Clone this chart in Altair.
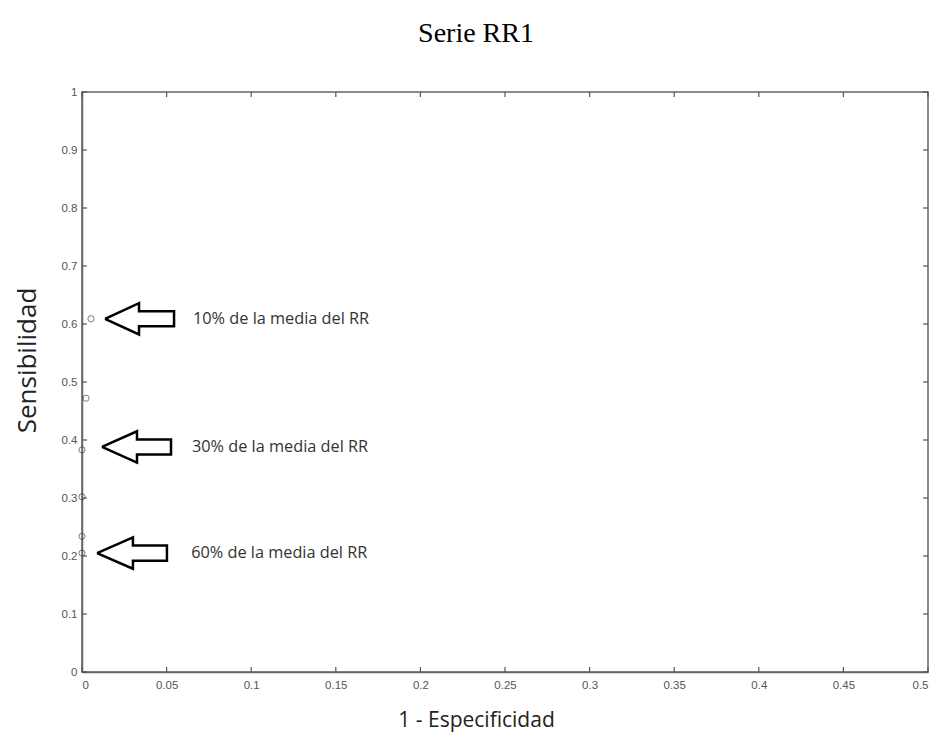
import altair as alt
import pandas as pd

# ---- data ----
pt_x = [0.0053, 0.0024, 0.0, 0.0, 0.0, 0.0]
pt_y = [0.609, 0.472, 0.383, 0.302, 0.234, 0.205]

x_ticks = [0, 0.05, 0.1, 0.15, 0.2, 0.25, 0.3, 0.35, 0.4, 0.45, 0.5]
y_ticks = [0, 0.1, 0.2, 0.3, 0.4, 0.5, 0.6, 0.7, 0.8, 0.9, 1.0]

ann_text = ["10% de la media del RR", "30% de la media del RR", "60% de la media del RR"]
ann_x = [0.0656, 0.0650, 0.0645]
ann_y = [0.609, 0.388, 0.205]

arrow_tip_x = [0.0136, 0.0118, 0.0089]
arrow_neck_x = [0.0337, 0.0325, 0.0301]
arrow_tail_x = [0.0544, 0.0526, 0.0502]
arrow_y = [0.609, 0.388, 0.205]
head_half = 0.027
shaft_half = 0.013

W, H = 846, 580

pts = pd.DataFrame({"x": pt_x, "y": pt_y})
xt = pd.DataFrame({"v": x_ticks})
yt = pd.DataFrame({"v": y_ticks})
ann = pd.DataFrame({"x": ann_x, "y": ann_y, "t": ann_text})

rows = []
for i, (tx, nx, ex, cy) in enumerate(zip(arrow_tip_x, arrow_neck_x, arrow_tail_x, arrow_y)):
    verts = [
        (tx, cy),
        (nx, cy + head_half),
        (nx, cy + shaft_half),
        (ex, cy + shaft_half),
        (ex, cy - shaft_half),
        (nx, cy - shaft_half),
        (nx, cy - head_half),
        (tx, cy),
    ]
    for k, (vx, vy) in enumerate(verts):
        rows.append({"a": i, "k": k, "x": vx, "y": vy})
arr = pd.DataFrame(rows)

xs = alt.Scale(domain=[0, 0.5], nice=False, zero=False)
ys = alt.Scale(domain=[0, 1], nice=False, zero=False)

axis_common = dict(
    domainColor="#666666", domainWidth=1.5, ticks=False, grid=False,
    labelFont="Liberation Sans", labelFontSize=11.5, labelColor="#555555",
    titleFont="Open Sans", titleFontWeight="normal", titleColor="#222222",
    format="~g",
)

points = alt.Chart(pts).mark_point(
    shape="circle", filled=False, size=38, strokeWidth=1, color="#444444"
).encode(
    x=alt.X("x:Q", scale=xs, axis=alt.Axis(
        values=x_ticks, title="1 - Especificidad", labelPadding=7,
        titleFontSize=21, titleX=394, titleY=54, titleBaseline="alphabetic",
        titleAnchor="start", titleAlign="center", **axis_common)),
    y=alt.Y("y:Q", scale=ys, axis=alt.Axis(
        values=y_ticks, title="Sensibilidad", labelPadding=5,
        titleFontSize=26, titleX=-55, titleY=268, titleBaseline="middle",
        titleAngle=-90, titleAlign="center", **axis_common)),
)

tick_style = dict(color="#555555", strokeWidth=1.2)
xb = alt.Chart(xt).mark_rule(**tick_style).encode(
    x=alt.X("v:Q", scale=xs), y=alt.value(H), y2=alt.value(H - 5))
xtop = alt.Chart(xt).mark_rule(**tick_style).encode(
    x=alt.X("v:Q", scale=xs), y=alt.value(0), y2=alt.value(5))
yl = alt.Chart(yt).mark_rule(**tick_style).encode(
    y=alt.Y("v:Q", scale=ys), x=alt.value(0), x2=alt.value(5))
yr = alt.Chart(yt).mark_rule(**tick_style).encode(
    y=alt.Y("v:Q", scale=ys), x=alt.value(W), x2=alt.value(W - 5))

arrows = alt.Chart(arr).mark_line(
    color="black", strokeWidth=2.5, strokeJoin="miter"
).encode(
    x=alt.X("x:Q", scale=xs), y=alt.Y("y:Q", scale=ys),
    detail="a:N", order="k:Q",
)

texts = alt.Chart(ann).mark_text(
    align="left", baseline="middle", font="Open Sans", fontSize=16.3, color="#333333"
).encode(x=alt.X("x:Q", scale=xs), y=alt.Y("y:Q", scale=ys), text="t:N")

chart = alt.layer(points, xb, xtop, yl, yr, arrows, texts).properties(
    width=W, height=H,
    autosize=alt.AutoSizeParams(type="none"),
    padding={"left": 74, "top": 84, "right": 4, "bottom": 61},
    title=alt.TitleParams(
        "Serie RR1", font="Liberation Serif", fontSize=28, fontWeight="normal",
        color="black", anchor="middle", offset=38, dx=-29,
    ),
).configure_view(stroke="#666666", strokeWidth=1.5)

chart.save("out.html", embed_options={"renderer": "svg", "actions": False})
